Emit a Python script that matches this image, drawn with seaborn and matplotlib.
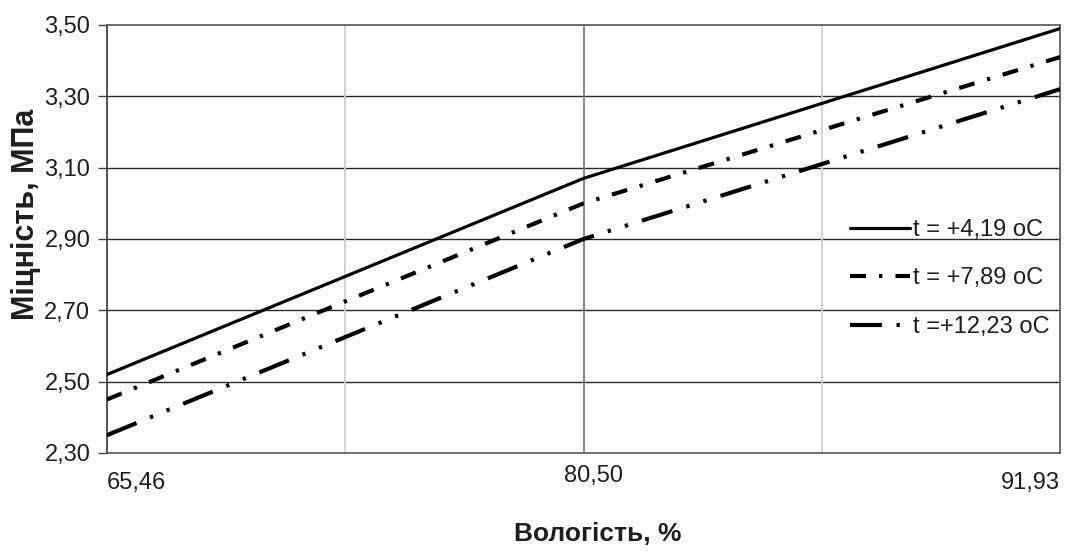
import matplotlib
matplotlib.use("Agg")
import matplotlib.pyplot as plt
import matplotlib.transforms as mtransforms
from matplotlib import font_manager
import seaborn as sns
import pandas as pd

moisture_labels = ["65,46", "80,50", "91,93"]
t1_values = [2.52, 3.07, 3.49]
t2_values = [2.45, 3.00, 3.41]
t3_values = [2.35, 2.90, 3.32]
series_names = ["t = +4,19 oC", "t = +7,89 oC", "t =+12,23 oC"]
y_ticks = [2.30, 2.50, 2.70, 2.90, 3.10, 3.30, 3.50]

sns.set_style("white")
plt.rcParams['font.family'] = ['Liberation Sans', 'DejaVu Sans']
plt.rcParams['lines.scale_dashes'] = False

installed = {f.name for f in font_manager.fontManager.ttflist}
narrow = 'Liberation Sans Narrow' if 'Liberation Sans Narrow' in installed else None

rows = []
for name, vals in zip(series_names, [t1_values, t2_values, t3_values]):
    for i, v in enumerate(vals):
        rows.append({"x": i, "y": v, "series": name})
df = pd.DataFrame(rows)

fig = plt.figure(figsize=(10.74, 5.52), dpi=100)
ax = fig.add_axes([107/1074, 1 - 453/552, (1060-107)/1074, (453-25)/552])

styles = {
    series_names[0]: ("-", 2.3),
    series_names[1]: ((0, (11.5, 9.4, 2.4, 9.4)), 3.0),
    series_names[2]: ((0, (23, 10.5, 2.4, 10.5, 2.4, 10.5)), 3.0),
}

for yv in y_ticks[1:-1]:
    ax.axhline(yv, color="#2a2a2a", lw=1.0, zorder=1)
ax.axvline(0.5, color="#d0d0d0", lw=1.3, zorder=1)
ax.axvline(1.0, color="#808080", lw=1.3, zorder=1)
ax.axvline(1.5, color="#d0d0d0", lw=1.3, zorder=1)

for name in series_names:
    sub = df[df.series == name]
    ls, lw = styles[name]
    sns.lineplot(data=sub, x="x", y="y", ax=ax, color="black", lw=lw,
                 linestyle=ls, label=name, zorder=3)

ax.set_xlim(0, 2)
ax.set_ylim(2.30, 3.50)
ax.set_yticks(y_ticks)
ax.set_yticklabels([f"{v:.2f}".replace(".", ",") for v in y_ticks], fontsize=17)
ax.set_xticks([0, 1, 2])
ax.set_xticklabels(moisture_labels, fontsize=17)
tl = ax.get_xticklabels()
tl[0].set_ha("left")
tl[2].set_ha("right")
ax.tick_params(axis="x", length=0, pad=14)
ax.tick_params(axis="y", length=6.5, width=1, direction="out", left=True, pad=5.5,
               color="#444444")
for lab in ax.get_yticklabels() + tl:
    lab.set_color("#1e1e1e")
tl[1].set_transform(tl[1].get_transform() +
                    mtransforms.ScaledTranslation(0.10, 0.07, fig.dpi_scale_trans))
ax.set_xlabel("")
ax.set_ylabel("")

for s in ax.spines.values():
    s.set_color("#555555")
    s.set_linewidth(1.2)
ax.spines["left"].set_color("#333333")

leg = ax.legend(loc="upper left", bbox_to_anchor=((850 - 107) / 953, 1 - (219 - 25) / 428),
                frameon=False, fontsize=17, handlelength=2.55, handletextpad=0.1,
                labelspacing=1.12, borderaxespad=0, borderpad=0)
for t in leg.get_texts():
    t.set_color("#1e1e1e")

fig.text(26 / 1074, 1 - 214 / 552, "Міцність, МПа", fontsize=22, fontweight="bold",
         rotation=90, ha="center", va="center", color="#1e1e1e")
if narrow:
    fig.text(598 / 1074, 1 - 534 / 552, "Вологість, %", fontsize=22, fontweight="bold",
             family=[narrow, 'Liberation Sans'], ha="center", va="center", color="#1e1e1e")
else:
    fig.text(598 / 1074, 1 - 534 / 552, "Вологість, %", fontsize=19, fontweight="bold",
             ha="center", va="center", color="#1e1e1e")

fig.savefig("out.png", dpi=100)
